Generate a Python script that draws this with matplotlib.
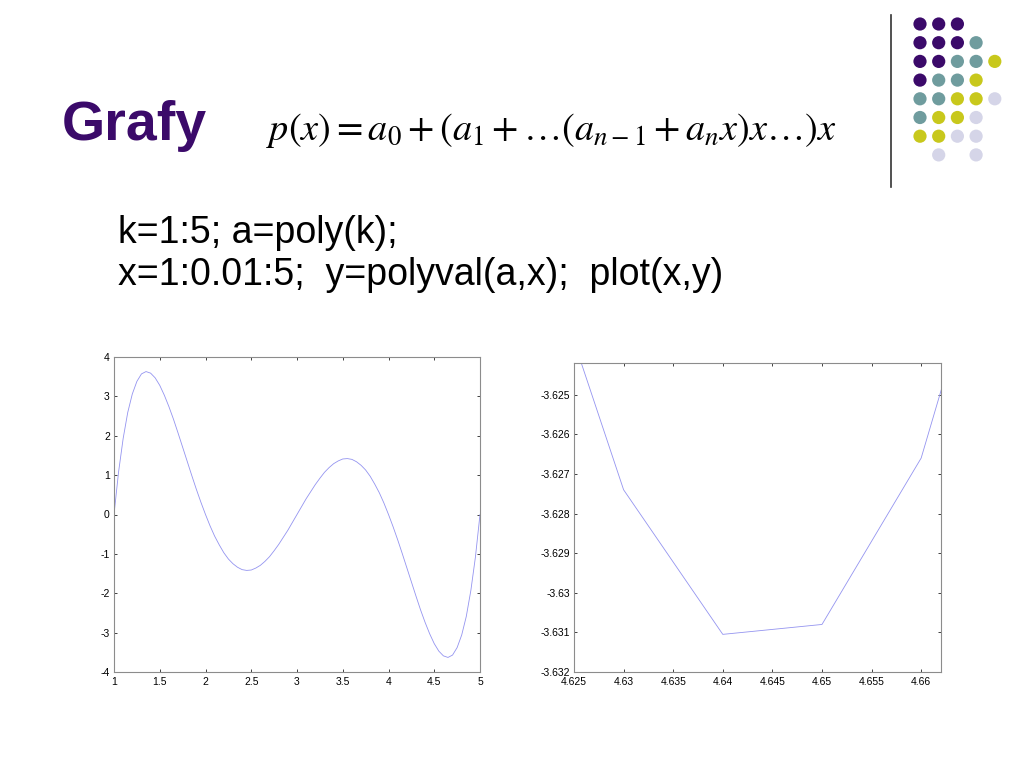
import matplotlib
matplotlib.use("Agg")
import matplotlib.pyplot as plt
from matplotlib import font_manager
from matplotlib.patches import Circle

# left plot: y = polyval(poly(1:5), x)
x_left = [1.00, 1.05, 1.10, 1.15, 1.20, 1.25, 1.30, 1.35, 1.40, 1.45,
          1.50, 1.55, 1.60, 1.65, 1.70, 1.75, 1.80, 1.85, 1.90, 1.95,
          2.00, 2.05, 2.10, 2.15, 2.20, 2.25, 2.30, 2.35, 2.40, 2.45,
          2.50, 2.55, 2.60, 2.65, 2.70, 2.75, 2.80, 2.85, 2.90, 2.95,
          3.00, 3.05, 3.10, 3.15, 3.20, 3.25, 3.30, 3.35, 3.40, 3.45,
          3.50, 3.55, 3.60, 3.65, 3.70, 3.75, 3.80, 3.85, 3.90, 3.95,
          4.00, 4.05, 4.10, 4.15, 4.20, 4.25, 4.30, 4.35, 4.40, 4.45,
          4.50, 4.55, 4.60, 4.65, 4.70, 4.75, 4.80, 4.85, 4.90, 4.95, 5.00]
y_left = [0.00, 1.08, 1.93, 2.59, 3.06, 3.38, 3.57, 3.63, 3.59, 3.47,
          3.28, 3.03, 2.74, 2.42, 2.07, 1.71, 1.35, 0.99, 0.64, 0.31,
          0.00, -0.29, -0.55, -0.77, -0.97, -1.13, -1.25, -1.34, -1.40, -1.42,
          -1.41, -1.36, -1.29, -1.19, -1.07, -0.92, -0.76, -0.58, -0.40, -0.20,
          0.00, 0.20, 0.40, 0.58, 0.76, 0.92, 1.07, 1.19, 1.29, 1.36,
          1.41, 1.42, 1.40, 1.34, 1.25, 1.13, 0.97, 0.77, 0.55, 0.29,
          0.00, -0.31, -0.64, -0.99, -1.35, -1.71, -2.07, -2.42, -2.74, -3.03,
          -3.28, -3.47, -3.59, -3.63, -3.57, -3.38, -3.06, -2.59, -1.93, -1.08, 0.00]
left_xticks = [1, 1.5, 2, 2.5, 3, 3.5, 4, 4.5, 5]
left_xlabels = ["1", "1.5", "2", "2.5", "3", "3.5", "4", "4.5", "5"]
left_yticks = [-4, -3, -2, -1, 0, 1, 2, 3, 4]
left_ylabels = ["-4", "-3", "-2", "-1", "0", "1", "2", "3", "4"]

# right plot: zoom on the minimum near x = 4.64
x_right = [4.62, 4.63, 4.64, 4.65, 4.66, 4.67]
y_right = [-3.6199, -3.6274, -3.63105, -3.6308, -3.6266, -3.6181]
right_xticks = [4.625, 4.63, 4.635, 4.64, 4.645, 4.65, 4.655, 4.66]
right_xlabels = ["4.625", "4.63", "4.635", "4.64", "4.645", "4.65", "4.655", "4.66"]
right_yticks = [-3.632, -3.631, -3.63, -3.629, -3.628, -3.627, -3.626, -3.625]
right_ylabels = ["-3.632", "-3.631", "-3.63", "-3.629", "-3.628", "-3.627", "-3.626", "-3.625"]

# decoration dots, top right (P purple, T teal, Y yellow, L lavender)
dot_rows = ["PPP..", "PPPT.", "PPTTY", "PTTY.", "TTYYL", "TYYL.", "YYLL.", ".L.L."]
dot_colors = {"P": "#3b0a6a", "T": "#6f9c9e", "Y": "#c8c81c", "L": "#d5d5e8"}

title_color = "#3b0a6a"
line_color = "#9494f0"

try:
    font_manager.findfont("Liberation Sans Narrow", fallback_to_default=False)
    narrow, body_size = "Liberation Sans Narrow", 29
except Exception:
    narrow, body_size = "Liberation Sans", 27

plt.rcParams["mathtext.fontset"] = "stix"

fig = plt.figure(figsize=(10.24, 7.68), dpi=100)

# overlay in pixel coordinates for the slide parts
bg = fig.add_axes([0, 0, 1, 1])
bg.set_xlim(0, 1024)
bg.set_ylim(768, 0)
bg.axis("off")

bg.text(62, 140, "Grafy", fontsize=40, fontweight="bold", color=title_color,
        family="Liberation Sans", va="baseline", ha="left")
bg.text(266, 140, r"$p(x)=a_0+(a_1+\ldots(a_{n-1}+a_n x)x\ldots)x$",
        fontsize=27.5, color="black", va="baseline", ha="left")
bg.text(118, 243, "k=1:5; a=poly(k);", fontsize=body_size, family=narrow,
        va="baseline", ha="left")
bg.text(118, 285, "x=1:0.01:5;  y=polyval(a,x);  plot(x,y)", fontsize=body_size,
        family=narrow, va="baseline", ha="left")

bg.plot([891, 891], [15, 187], color="#333333", lw=1.2)
for r, row in enumerate(dot_rows):
    for c, ch in enumerate(row):
        if ch in dot_colors:
            bg.add_patch(Circle((920 + c * 18.7, 24 + r * 18.7), 6.6,
                                color=dot_colors[ch], lw=0))


def style(ax):
    for s in ax.spines.values():
        s.set_color("#8c8c8c")
        s.set_linewidth(0.8)
    ax.tick_params(direction="in", length=2.5, width=0.6, color="#222222",
                   labelsize=7.5, top=True, right=True)
    ax.tick_params(axis="x", pad=3.5)
    ax.tick_params(axis="y", pad=3)
    for lab in ax.get_xticklabels() + ax.get_yticklabels():
        lab.set_family("Liberation Sans")


ax1 = fig.add_axes([114 / 1024, 96 / 768, 366 / 1024, 315 / 768])
ax1.plot(x_left, y_left, color=line_color, lw=0.6)
ax1.set_xlim(1, 5)
ax1.set_ylim(-4, 4)
ax1.set_xticks(left_xticks, left_xlabels)
ax1.set_yticks(left_yticks, left_ylabels)
style(ax1)

ax2 = fig.add_axes([574 / 1024, 96 / 768, 367 / 1024, 309 / 768])
ax2.plot(x_right, y_right, color=line_color, lw=0.6)
ax2.set_xlim(4.625, 4.662)
ax2.set_ylim(-3.632, -3.6242)
ax2.set_xticks(right_xticks, right_xlabels)
ax2.set_yticks(right_yticks, right_ylabels)
style(ax2)

fig.savefig("out.png", dpi=100)
